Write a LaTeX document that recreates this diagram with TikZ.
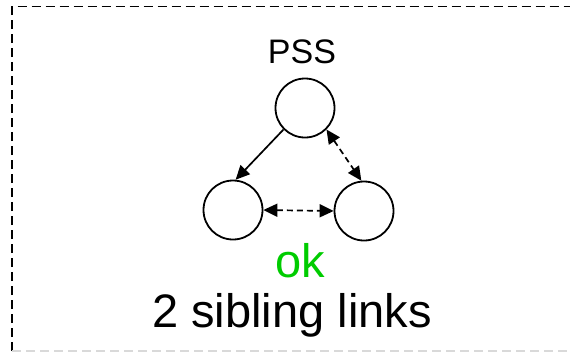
\documentclass[tikz,border=0pt]{standalone}
\usepackage{fontspec}
\setmainfont{Liberation Sans}
\usetikzlibrary{arrows.meta}
\definecolor{okgreen}{RGB}{0,204,0}
\begin{document}
\begin{tikzpicture}[x=1pt,y=-1pt,
  vert/.style={circle,draw,line width=1.8pt,minimum size=59pt,inner sep=0pt},
  link/.style={line width=1.7pt,-{Triangle[length=14pt,width=13pt]}},
  sib/.style={line width=1.7pt,dash pattern=on 6pt off 4pt,{Triangle[length=14pt,width=13pt]}-{Triangle[length=14pt,width=13pt]}},
  boxline/.style={line width=1.6pt,dash pattern=on 9pt off 5pt}]
\useasboundingbox (0,0) rectangle (570,354);
\draw[boxline] (12,351) -- (12,6.5) -- (580,6.5);
\draw[boxline,black!15] (12,351) -- (580,351);
\node[vert] (top) at (305,108) {};
\node[vert] (left) at (233,210) {};
\node[vert] (right) at (364,211) {};
\node[anchor=base,inner sep=0pt,font=\fontsize{34}{40}\selectfont] (pss) at (302,63) {PSS};
\node[anchor=base,inner sep=0pt,text=okgreen,font=\fontsize{47}{56}\selectfont] (ok) at (300,277) {ok};
\node[anchor=base,inner sep=0pt,font=\fontsize{47}{56}\selectfont] (cap) at (292,327) {2 sibling links};
\draw[link] (top.225) -- (left.85);
\draw[sib] (top.-45) -- (right.95);
\draw[sib] (left.east) -- (right.west);
\end{tikzpicture}
\end{document}
